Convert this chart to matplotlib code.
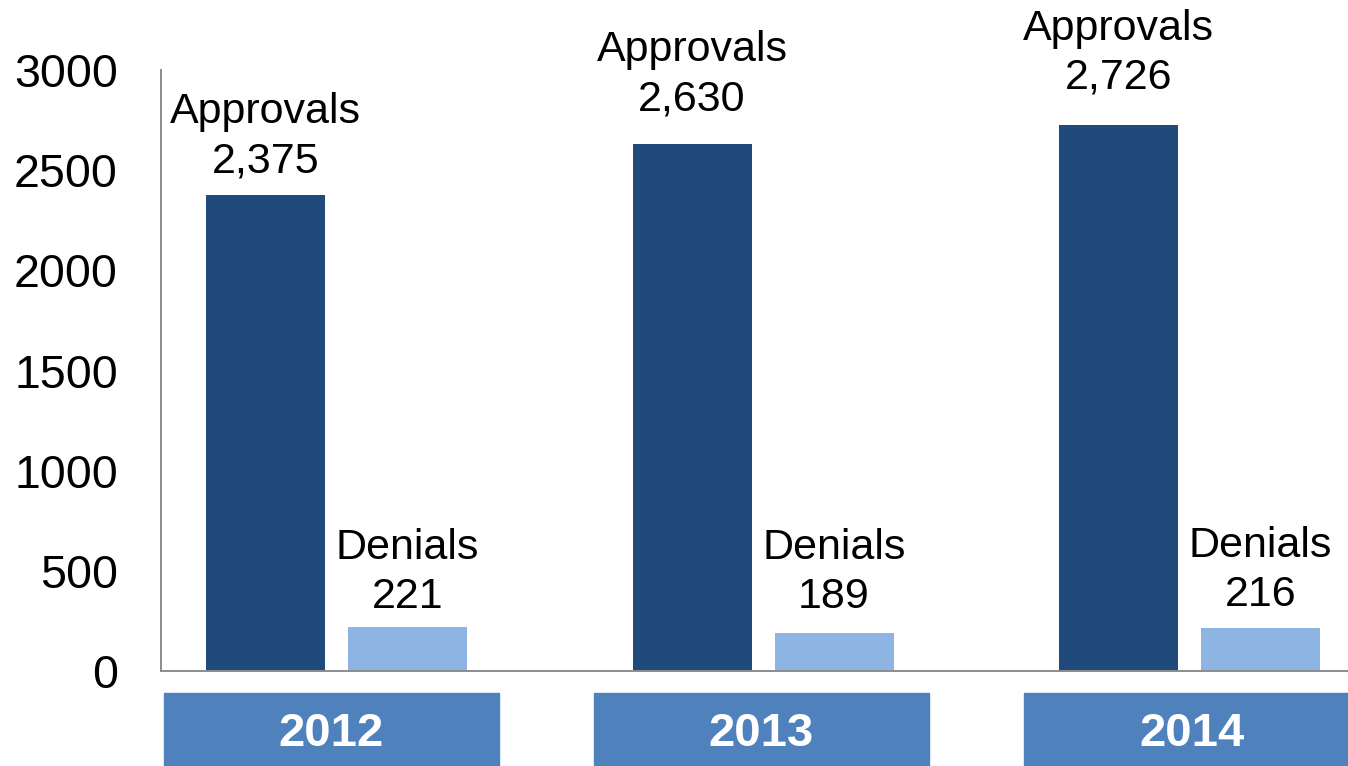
import matplotlib.pyplot as plt
from matplotlib.patches import Rectangle
import numpy as np

years = ['2012', '2013', '2014']
approvals = [2375, 2630, 2726]
denials = [221, 189, 216]

# label lifts above each bar top, in pixels (value line centre)
appr_lift = [34, 45, 47]
den_lift = [30, 36, 33]

dark = '#204A7C'
light = '#8EB4E3'
box = '#4F81BD'

plt.rcParams['font.family'] = ['Liberation Sans', 'DejaVu Sans']

fig = plt.figure(figsize=(13.48, 7.66), dpi=100)
ax = fig.add_axes([161 / 1348, (766 - 671) / 766, 1 - 161 / 1348, 601 / 766])

x = np.arange(len(years))
w = 119 / 426.5
off = 71 / 426.5
ax.bar(x - off, approvals, w, color=dark)
ax.bar(x + off, denials, w, color=light)

ax.set_xlim(-175.5 / 426.5, 1011.5 / 426.5)
ax.set_ylim(0, 3000)
ax.set_yticks(np.arange(0, 3001, 500))
ax.set_xticks([])
ax.tick_params(axis='y', length=0, pad=31, labelsize=33.5)
for s in ['top', 'right']:
    ax.spines[s].set_visible(False)
for s in ['left', 'bottom']:
    ax.spines[s].set_color('#8C8C8C')
    ax.spines[s].set_linewidth(1.4)

# value labels with series name above
for i in range(len(years)):
    for xi, val, lift, name in [(x[i] - off, approvals[i], appr_lift[i], 'Approvals'),
                                (x[i] + off, denials[i], den_lift[i], 'Denials')]:
        ax.annotate(f'{val:,}', (xi, val), xytext=(0, lift), textcoords='offset pixels',
                    ha='center', va='center', fontsize=31)
        ax.annotate(name, (xi, val), xytext=(0, lift + 49), textcoords='offset pixels',
                    ha='center', va='center', fontsize=31)

# year boxes under the axis, spaced slightly wider than the bar groups
tr = ax.get_xaxis_transform()
bw = 335 / 426.5
for i, yr in enumerate(years):
    left = -172.5 / 426.5 + i * 430 / 426.5
    ax.add_patch(Rectangle((left, -0.16), bw, 0.1235,
                           transform=tr, color=box, clip_on=False))
    ax.text(left + bw / 2, -0.104, yr, transform=tr, ha='center', va='center',
            fontsize=34, fontweight='bold', color='white')

fig.savefig('out.png', dpi=100)
